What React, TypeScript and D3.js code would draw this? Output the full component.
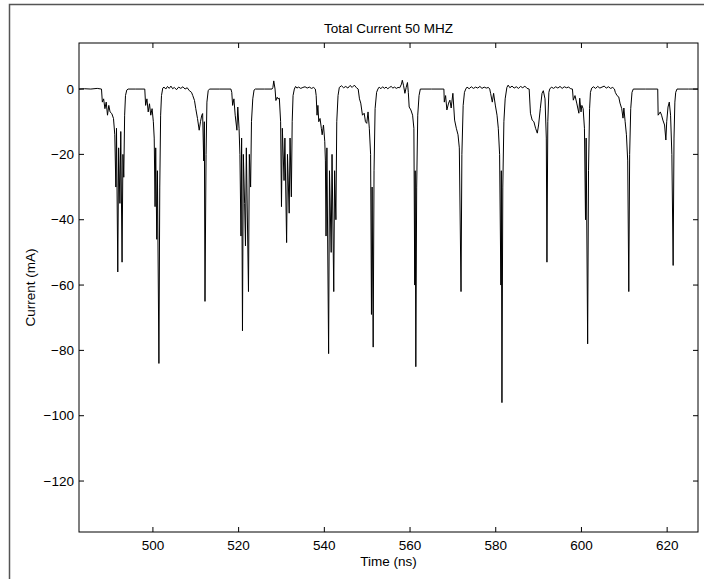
import React from "react";
import * as d3 from "d3";

const samples: [number, number][] = [
  [482.75,0],[484,0.1],[485.5,0],[487,0.2],[488.0,0],
  [488.2,-4],[488.5,-3],[488.8,-6],[489.1,-4],[489.4,-8],[489.7,-5],[490.0,-7],[490.4,-7.5],[490.8,-9],[491.1,-14],
  [491.35,-30],[491.5,-12],[491.8,-56],[492.0,-18],[492.3,-35],[492.5,-13],[492.8,-53],[493.0,-20],[493.2,-27],[493.4,-8],[493.6,-2],[493.9,-0.3],[494.2,0],
  [496,0],[498.1,0],
  [498.3,-5],[498.6,-3],[498.9,-7],[499.2,-4.5],[499.5,-8],[499.8,-6],[500.1,-10],[500.3,-15],[500.5,-36],[500.65,-18],[500.9,-46],[501.05,-25],[501.4,-84],[501.6,-30],[501.8,-8],[502.0,-2],[502.3,0.3],
  [502.6,0.6],[503,0],[503.4,0.8],[503.8,0.2],[504.2,0.9],[504.6,0.1],[505,0.5],[505.5,-0.2],[506,0.6],[506.5,0.2],[507,0.7],[507.5,0],[508,0.4],[508.5,-0.5],[509,-1],
  [509.3,-2],[509.7,-3.5],[510,-6],[510.4,-9],[510.8,-12.6],[511.1,-10],[511.4,-8],[511.6,-7.5],[511.85,-22],[512.0,-10],[512.15,-65],[512.4,-20],[512.6,-4],[512.9,-0.5],[513.2,0],
  [515.5,0],[518.2,0],
  [518.4,-1],[518.6,-5],[518.9,-3],[519.2,-8],[519.6,-12.6],[519.8,-5.5],[520.1,-12],[520.3,-20],[520.55,-45],[520.7,-15],[520.9,-74],[521.1,-20],[521.4,-35],[521.6,-48],[521.8,-18],[522.3,-62],[522.5,-20],[522.8,-30],[523.0,-10],[523.3,-3],[523.6,-0.3],[523.9,0],
  [526,0],[527.8,0],
  [528.0,0.5],[528.2,2.5],[528.5,0],[528.7,-3.5],[529.0,-2.5],[529.2,-3],[529.5,-2.8],[529.8,-10],[530.0,-36],[530.2,-12],[530.6,-28],[530.8,-15],[531.2,-47],[531.4,-20],[531.8,-38],[532.0,-15],[532.3,-33],[532.5,-10],[532.7,-2],[533.0,0],
  [533.3,0.8],[533.6,0.3],[534,0.6],[534.5,0.2],[535,0.5],[535.5,0.7],[536,0.3],[536.5,0.6],[537,0.2],[537.5,0.5],[537.9,0],
  [538.1,-2],[538.3,-8],[538.5,-5],[538.7,-10],[539,-9],[539.3,-12],[539.5,-14],[539.8,-11],[540.1,-16],[540.25,-22],[540.4,-45],[540.6,-18],[541.0,-81],[541.2,-25],[541.6,-50],[541.8,-20],[542.2,-62],[542.4,-25],[542.7,-40],[542.9,-10],[543.2,-2],[543.5,0.5],
  [544,1.0],[544.5,0.4],[545,0.8],[545.5,0.3],[546,1.1],[546.5,0.5],[547,1.2],[547.5,0.4],[547.9,0],
  [548.2,-3],[548.5,-4.3],[548.9,-8],[549.3,-7.4],[549.6,-10],[549.9,-10.5],[550.2,-7],[550.5,-12],[550.8,-20],[551.0,-69],[551.15,-30],[551.4,-79],[551.6,-25],[551.85,-6],[552.2,-1],[552.5,0],
  [552.8,0.6],[553.2,0.1],[553.6,0.7],[554,0.2],[554.4,0.6],[554.8,0.1],[555.2,0.5],[555.6,0.8],[556,0.3],[556.4,0.6],[556.8,0.2],[557.2,0.5],[557.6,0.4],[558.0,1.5],[558.2,2.7],[558.5,1],[558.8,-1.3],[559.1,0.5],[559.4,2.0],[559.6,-1],[559.8,-5.5],[560.2,-6.4],[560.6,-8],[560.9,-12],[561.1,-60],[561.2,-25],[561.35,-85],[561.55,-30],[561.8,-8],[562.1,-2],[562.4,0],
  [565,0],[567.9,0],
  [568.0,-4],[568.3,-2],[568.6,-6.4],[569.0,-4.3],[569.3,-3.4],[569.6,-5.8],[570.0,-1.3],[570.4,-9.5],[570.8,-12],[571.2,-14],[571.5,-18],[571.9,-62],[572.1,-20],[572.4,-5],[572.7,-1],[573.0,0],
  [573.3,0.6],[573.8,0.1],[574.3,0.7],[574.8,0.2],[575.3,0.6],[575.8,0.3],[576.3,0.8],[576.8,0.2],[577.3,0.6],[577.8,0.3],[578.3,0.5],[578.6,0],
  [578.8,-1.3],[579.2,-4],[579.5,-1.3],[579.9,-4.9],[580.3,-8],[580.6,-12],[580.9,-20],[581.2,-60],[581.3,-25],[581.45,-96],[581.65,-30],[581.9,-10],[582.2,-3],[582.6,0.5],[582.9,1.2],
  [583.3,0.4],[583.8,0.9],[584.3,0.3],[584.8,0.7],[585.3,0.2],[585.8,0.8],[586.3,0.4],[586.8,0.9],[587.3,0.2],[587.8,0],
  [588.1,-7.4],[588.5,-9.5],[588.9,-10],[589.3,-12],[589.7,-13.5],[590,-11],[590.4,-6],[590.8,-1.3],[591.1,-0.5],[591.5,-3],[591.8,-15],[591.95,-53],[592.15,-10],[592.4,-1],[592.6,0],
  [593,0.6],[593.5,0.2],[594,0.7],[594.5,0.3],[595,0.8],[595.5,0.2],[596,0.7],[596.5,0.4],[597,0.6],[597.5,0.1],[597.9,0],
  [598.1,-3.4],[598.5,-2],[598.9,-4.3],[599.4,-7.4],[599.6,-2.8],[599.9,-7],[600.1,-5],[600.4,-6],[600.7,-12],[600.95,-40],[601.1,-15],[601.45,-78],[601.65,-25],[601.9,-6],[602.1,-1],[602.4,0.3],
  [602.8,0.7],[603.3,0.2],[603.8,0.8],[604.3,0.3],[604.8,0.6],[605.3,0.9],[605.8,0.3],[606.3,0.7],[606.8,0.2],[607.3,0.5],[607.7,0],
  [607.9,-1],[608.3,-2],[608.7,-2.4],[609,-4.3],[609.4,-6],[609.7,-8.9],[609.9,-5.8],[610.2,-10],[610.5,-14],[610.8,-22],[611.05,-62],[611.25,-20],[611.5,-6],[611.8,-1],[612.1,0],
  [615,0],[617.8,0],
  [617.9,-8],[618.4,-7],[618.7,-8],[619.0,-9.5],[619.4,-11],[619.7,-15.6],[619.9,-10],[620.2,-5.5],[620.5,-4],[620.8,-8],[621.1,-20],[621.4,-54],[621.6,-15],[621.8,-4],[622.0,-1],[622.3,0],
  [625,0],[627.2,0],
];

const xTicks = [500, 520, 540, 560, 580, 600, 620];
const yTicks = [0, -20, -40, -60, -80, -100, -120];
const xDomain = [482.75, 627.2];
const yDomain = [-135.6, 14.1];
const titleText = "Total Current 50 MHZ";
const xLabelText = "Time (ns)";
const yLabelText = "Current (mA)";

const W = 704, H = 579;
const L = 79, R = 698, T = 43, B = 532;
const FONT = "'Liberation Sans', Arial, Helvetica, sans-serif";
const FS = 13.5;

const fmt = (v: number) => (v < 0 ? "\u2212" + Math.abs(v) : String(v));

export default function App() {
  const x = d3.scaleLinear().domain(xDomain).range([L, R]);
  const y = d3.scaleLinear().domain(yDomain).range([B, T]);
  const line = d3.line<[number, number]>().x((d) => x(d[0])).y((d) => y(d[1]));
  const tk = 5;
  return (
    <svg width={W} height={H} style={{ position: "absolute", left: 0, top: 0, background: "#fff" }}>
      <defs>
        <clipPath id="plotclip">
          <rect x={L} y={T} width={R - L} height={B - T} />
        </clipPath>
      </defs>
      <rect x={0} y={0} width={W} height={H} fill="#fff" />
      <path d={`M9.5,${H}V4.5H${W}`} fill="none" stroke="#555" strokeWidth={1.5} />
      <g clipPath="url(#plotclip)">
        <path d={line(samples) || ""} fill="none" stroke="#000" strokeWidth={1} strokeLinejoin="round" />
      </g>
      <rect x={L} y={T} width={R - L} height={B - T} fill="none" stroke="#000" strokeWidth={1} />
      {xTicks.map((t) => (
        <g key={"x" + t}>
          <line x1={x(t)} x2={x(t)} y1={B} y2={B - tk} stroke="#000" />
          <line x1={x(t)} x2={x(t)} y1={T} y2={T + tk} stroke="#000" />
          <text x={x(t)} y={550} textAnchor="middle" fontFamily={FONT} fontSize={FS}>{fmt(t)}</text>
        </g>
      ))}
      {yTicks.map((t) => (
        <g key={"y" + t}>
          <line x1={L} x2={L + tk} y1={y(t)} y2={y(t)} stroke="#000" />
          <line x1={R} x2={R - tk} y1={y(t)} y2={y(t)} stroke="#000" />
          <text x={74} y={y(t) + 4.7} textAnchor="end" fontFamily={FONT} fontSize={FS}>{fmt(t)}</text>
        </g>
      ))}
      <text x={(L + R) / 2} y={32.5} textAnchor="middle" fontFamily={FONT} fontSize={FS}>{titleText}</text>
      <text x={(L + R) / 2} y={566} textAnchor="middle" fontFamily={FONT} fontSize={FS}>{xLabelText}</text>
      <text transform={`translate(35,${(T + B) / 2}) rotate(-90)`} textAnchor="middle" fontFamily={FONT} fontSize={FS}>{yLabelText}</text>
    </svg>
  );
}
